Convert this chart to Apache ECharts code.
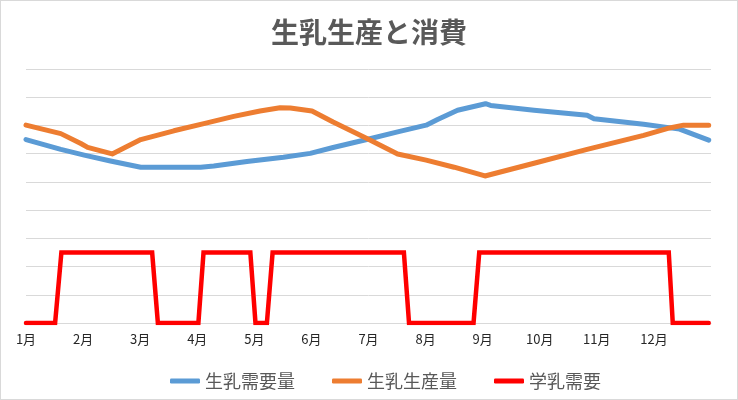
<!DOCTYPE html>
<html>
<head>
    <meta charset="utf-8">
    <title>生乳生産と消費</title>
    <script src="https://cdn.jsdelivr.net/npm/echarts@6/dist/echarts.min.js"></script>
    <style>
        html, body { margin: 0; padding: 0; background: #fff; }
        #main { width: 738px; height: 400px; box-sizing: border-box; border: 1px solid #d9d9d9; }
    </style>
</head>
<body>
<div id="main"></div>
<script type="text/javascript">
    // x = months from 1月 (0 = 1月, 1 = 2月 ...), y = value (gridlines every 10)
    var monthLabels = ['1月', '2月', '3月', '4月', '5月', '6月', '7月', '8月', '9月', '10月', '11月', '12月'];

    var demandX = [0, 0.61, 1.02, 1.48, 2.01, 3.06, 3.29, 3.87, 4.51, 4.98, 5.38, 5.97, 6.51, 7.01, 7.21, 7.56, 8.05, 8.14, 8.90, 9.83, 9.95, 10.82, 11.45, 11.96];
    var demandY = [65.0, 61.5, 59.5, 57.4, 55.2, 55.2, 55.6, 57.2, 58.7, 60.1, 62.2, 65.0, 67.7, 70.1, 72.1, 75.4, 77.7, 77.1, 75.4, 73.6, 72.4, 70.4, 68.7, 64.8];

    var supplyX = [0, 0.61, 0.96, 1.08, 1.51, 2.01, 2.59, 3.17, 3.64, 4.10, 4.45, 4.63, 5.01, 5.38, 5.99, 6.51, 7.01, 7.50, 8.04, 8.90, 9.83, 10.82, 11.23, 11.52, 11.96];
    var supplyY = [70.1, 67.1, 63.6, 62.2, 59.9, 65.0, 68.1, 70.9, 73.2, 75.1, 76.3, 76.2, 75.1, 71.2, 65.2, 59.9, 57.7, 55.2, 52.1, 56.6, 61.5, 66.5, 68.9, 70.1, 70.1];

    var schoolX = [0, 0.51, 0.62, 2.21, 2.31, 3.02, 3.11, 3.93, 4.02, 4.22, 4.32, 6.62, 6.71, 7.84, 7.94, 11.26, 11.33, 11.96];
    var schoolY = [0, 0, 25, 25, 0, 0, 25, 25, 0, 0, 25, 25, 0, 0, 25, 25, 0, 0];

    function zip(xs, ys) {
        var out = [];
        for (var i = 0; i < xs.length; i++) {
            out.push([xs[i], ys[i]]);
        }
        return out;
    }

    var font = '"Noto Sans CJK JP", "Noto Sans", sans-serif';
    var myChart = echarts.init(document.getElementById('main'));

    var option = {
        animation: false,
        backgroundColor: '#fff',
        title: {
            text: '生乳生産と消費',
            left: 'center',
            top: 12,
            textStyle: { fontFamily: font, fontSize: 28, fontWeight: 'bold', color: '#595959' }
        },
        legend: {
            left: 164,
            top: 366,
            itemWidth: 30,
            itemHeight: 5,
            itemGap: 37,
            icon: 'roundRect',
            textStyle: { fontFamily: font, fontSize: 18, color: '#595959' },
            data: ['生乳需要量', '生乳生産量', '学乳需要']
        },
        grid: { left: 25, right: 26, top: 68, bottom: 76 },
        xAxis: {
            type: 'value',
            min: 0,
            max: 12,
            interval: 1,
            axisLine: { show: true, lineStyle: { color: '#d9d9d9', width: 1 } },
            axisTick: { show: false },
            splitLine: { show: false },
            axisLabel: {
                margin: 10,
                fontFamily: font,
                fontSize: 13,
                color: '#262626',
                showMaxLabel: false,
                formatter: function (v) {
                    var i = Math.round(v);
                    return (Math.abs(v - i) < 1e-6 && i < 12) ? monthLabels[i] : '';
                }
            }
        },
        yAxis: {
            type: 'value',
            min: 0,
            max: 90,
            interval: 10,
            axisLine: { show: false },
            axisTick: { show: false },
            axisLabel: { show: false },
            splitLine: { lineStyle: { color: '#d9d9d9', width: 1 } }
        },
        series: [
            {
                name: '生乳需要量',
                type: 'line',
                showSymbol: false,
                data: zip(demandX, demandY),
                itemStyle: { color: '#5B9BD5' },
                lineStyle: { color: '#5B9BD5', width: 5, cap: 'round', join: 'round' }
            },
            {
                name: '生乳生産量',
                type: 'line',
                showSymbol: false,
                data: zip(supplyX, supplyY),
                itemStyle: { color: '#ED7D31' },
                lineStyle: { color: '#ED7D31', width: 5, cap: 'round', join: 'round' }
            },
            {
                name: '学乳需要',
                type: 'line',
                showSymbol: false,
                data: zip(schoolX, schoolY),
                itemStyle: { color: '#FF0000' },
                lineStyle: { color: '#FF0000', width: 4.5, cap: 'round', join: 'miter' }
            }
        ]
    };
    myChart.setOption(option);
</script>
</body>
</html>
